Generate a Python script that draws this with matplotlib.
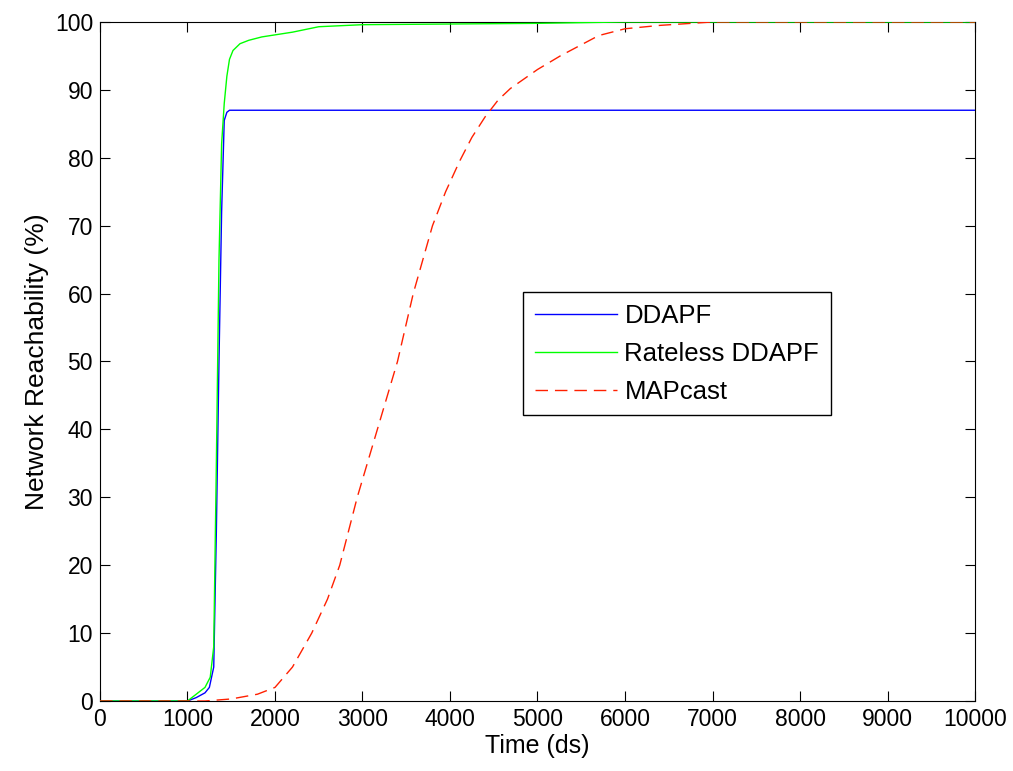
import matplotlib
matplotlib.use("Agg")
import matplotlib.pyplot as plt

# values
ddapf_t = [0, 1000, 1100, 1200, 1250, 1300, 1330, 1360, 1390, 1420, 1450, 1480, 10000]
ddapf_r = [0, 0, 0.5, 1.2, 2.0, 5.0, 25.0, 50.0, 72.0, 85.5, 86.7, 87.0, 87.0]

rateless_t = [0, 1000, 1100, 1200, 1260, 1300, 1330, 1360, 1390, 1420, 1450, 1480, 1520,
              1600, 1700, 1850, 2000, 2200, 2500, 3000, 4000, 5000, 6000, 10000]
rateless_r = [0, 0, 1.0, 2.0, 3.5, 8.0, 35.0, 65.0, 82.0, 88.0, 92.0, 94.5, 95.8,
              96.8, 97.3, 97.8, 98.1, 98.5, 99.3, 99.6, 99.7, 99.8, 100.0, 100.0]

mapcast_t = [0, 1200, 1500, 1800, 2000, 2200, 2420, 2600, 2740, 2940, 3170, 3400, 3580,
             3800, 3950, 4110, 4250, 4400, 4550, 4690, 5000, 5260, 5700, 6000, 6400, 7000, 10000]
mapcast_r = [0, 0, 0.3, 1.0, 2.0, 5.0, 10.0, 15.0, 20.0, 30.0, 40.0, 50.0, 60.0,
             70.0, 75.0, 79.5, 83.0, 86.0, 88.5, 90.2, 93.0, 95.0, 98.0, 99.0, 99.5, 100.0, 100.0]

plt.rcParams['font.family'] = ['Liberation Sans', 'DejaVu Sans']

fig = plt.figure(figsize=(10.13, 7.71), dpi=100)
ax = fig.add_axes([0.0987, 0.0908, 0.8638, 0.8807])

ax.plot(ddapf_t, ddapf_r, color='#0000ff', lw=1.0, label='DDAPF', zorder=3)
ax.plot(rateless_t, rateless_r, color='#00ff00', lw=1.0, label='Rateless DDAPF', zorder=3)
ax.plot(mapcast_t, mapcast_r, color='#ff2000', lw=1.0, ls=(0, (9, 5)), label='MAPcast', zorder=3)

ax.set_xlim(0, 10000)
ax.set_ylim(0, 100)
ax.set_xticks(range(0, 10001, 1000))
ax.set_yticks(range(0, 101, 10))
ax.tick_params(direction='in', top=True, right=True, labelsize=16.5, length=7, pad=5)
ax.set_xlabel('Time (ds)', fontsize=18, labelpad=2)
ax.set_ylabel('Network Reachability (%)', fontsize=19, labelpad=4)

leg = ax.legend(loc='upper left', bbox_to_anchor=(0.4834, 0.6024), borderaxespad=0,
                fontsize=18.5, fancybox=False, framealpha=1, borderpad=0.45,
                handlelength=3.2, handletextpad=0.3, labelspacing=0.55)
leg.get_frame().set_edgecolor('black')
leg.get_frame().set_linewidth(1.0)

fig.savefig('out.png', dpi=100)
